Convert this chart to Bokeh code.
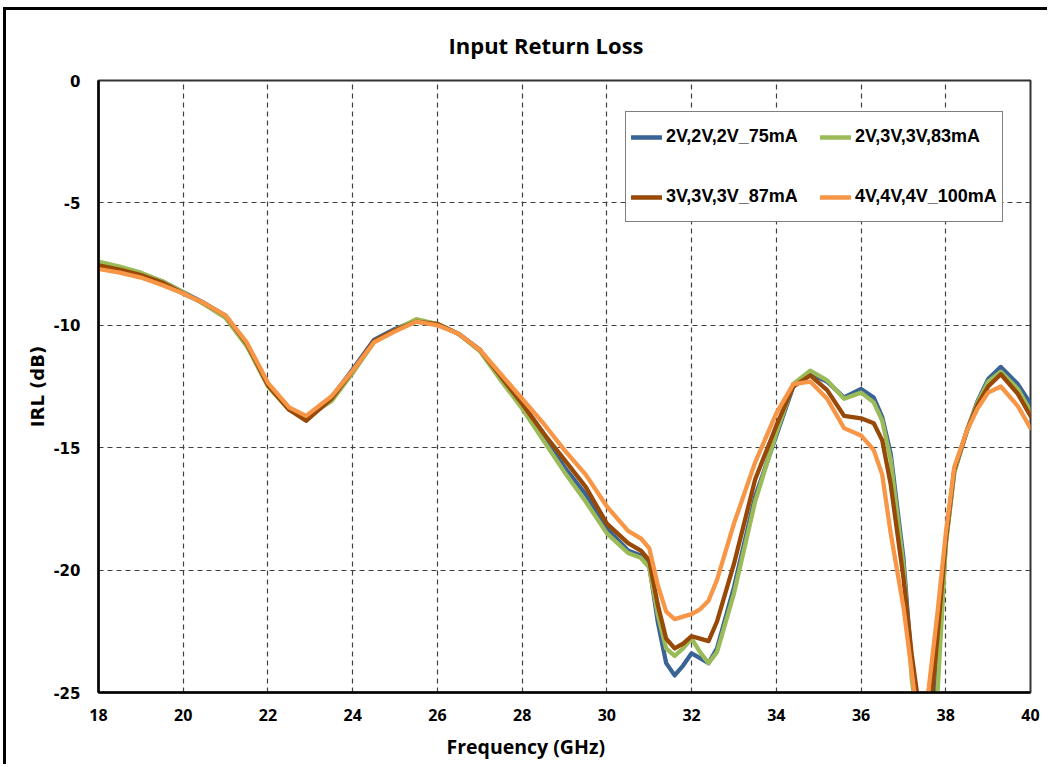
from bokeh.plotting import figure
from bokeh.models import (Legend, LegendItem, Title, Range1d, FixedTicker,
                          PrintfTickFormatter)
from bokeh.embed import file_html
from bokeh.resources import INLINE

# ---- data ----
freq_ghz = [18, 18.5, 19, 19.5, 20, 20.5, 21, 21.5, 22, 22.5, 22.9, 23.5, 24, 24.5,
            25, 25.5, 26, 26.5, 27, 27.5, 28, 28.5, 29, 29.5, 30, 30.5, 30.8, 31,
            31.2, 31.4, 31.6, 31.8, 32, 32.2, 32.4, 32.6, 33, 33.5, 34, 34.4, 34.8,
            35.2, 35.6, 36, 36.3, 36.5, 36.7, 37, 37.2, 37.4, 37.6, 37.8, 38, 38.2,
            38.5, 38.75, 39, 39.3, 39.7, 40]

irl_2v_75ma = [-7.45, -7.65, -7.9, -8.2, -8.65, -9.1, -9.65, -10.8, -12.4, -13.4, -13.8,
               -12.95, -11.8, -10.6, -10.15, -9.8, -9.95, -10.35, -11.0, -12.1, -13.2,
               -14.4, -15.8, -16.9, -18.3, -19.2, -19.4, -19.8, -22.1, -23.8, -24.3,
               -23.9, -23.4, -23.6, -23.8, -23.2, -20.7, -17.0, -14.5, -12.5, -12.0,
               -12.3, -12.95, -12.6, -12.95, -13.75, -15.25, -19.5, -24.0, -26.5, -27.0,
               -24.5, -18.9, -16.0, -14.3, -13.1, -12.2, -11.7, -12.4, -13.2]

irl_2v3v_83ma = [-7.4, -7.6, -7.85, -8.2, -8.65, -9.15, -9.7, -10.85, -12.5, -13.45, -13.75,
                 -13.1, -11.95, -10.7, -10.2, -9.75, -9.95, -10.35, -11.05, -12.25, -13.4,
                 -14.7, -16.0, -17.2, -18.5, -19.3, -19.5, -19.9, -21.8, -23.2, -23.5,
                 -23.2, -22.8, -23.35, -23.8, -23.35, -20.96, -17.2, -14.4, -12.4, -11.85,
                 -12.25, -13.0, -12.75, -13.15, -13.9, -15.5, -19.8, -24.5, -27.0, -27.5,
                 -25.2, -19.0, -16.0, -14.3, -13.15, -12.3, -11.9, -12.6, -13.5]

irl_3v_87ma = [-7.55, -7.72, -7.95, -8.25, -8.7, -9.1, -9.6, -10.75, -12.45, -13.45, -13.9,
               -13.0, -11.85, -10.65, -10.2, -9.85, -9.95, -10.35, -11.0, -12.1, -13.2,
               -14.4, -15.5, -16.6, -18.1, -18.9, -19.2, -19.6, -21.4, -22.8, -23.2,
               -23.0, -22.7, -22.8, -22.9, -22.1, -19.75, -16.3, -14.1, -12.5, -12.05,
               -12.65, -13.7, -13.8, -14.0, -14.7, -16.5, -20.3, -23.5, -26.0, -26.5,
               -22.8, -18.8, -15.9, -14.3, -13.25, -12.5, -12.0, -12.8, -13.7]

irl_4v_100ma = [-7.7, -7.85, -8.05, -8.35, -8.7, -9.1, -9.6, -10.7, -12.35, -13.35, -13.7,
                -12.9, -11.85, -10.7, -10.25, -9.85, -10.0, -10.35, -11.0, -12.0, -13.0,
                -14.0, -15.1, -16.1, -17.4, -18.4, -18.7, -19.1, -20.6, -21.7, -22.0,
                -21.9, -21.8, -21.6, -21.25, -20.4, -18.1, -15.6, -13.6, -12.4, -12.3,
                -13.0, -14.2, -14.5, -15.1, -16.1, -18.5, -21.5, -24.2, -27.0, -24.8,
                -21.8, -18.5, -15.8, -14.3, -13.4, -12.75, -12.5, -13.3, -14.2]

series_labels = ["2V,2V,2V_75mA", "2V,3V,3V,83mA", "3V,3V,3V_87mA", "4V,4V,4V_100mA"]
series_colors = ["#3B6496", "#9BBB59", "#984807", "#F79646"]

x_ticks = [18, 20, 22, 24, 26, 28, 30, 32, 34, 36, 38, 40]
y_ticks = [0, -5, -10, -15, -20, -25]

# ---- figure ----
p = figure(width=1044, height=757, output_backend="svg", toolbar_location=None,
           x_range=Range1d(18, 40), y_range=Range1d(-25, 0),
           min_border_left=92, min_border_right=20, min_border_top=70,
           min_border_bottom=75)
p.styles = {"border-left": "3px solid #000", "border-top": "3px solid #000",
            "margin-left": "3px", "margin-top": "7px"}
p.background_fill_color = "white"
p.border_fill_color = "white"
p.outline_line_color = "#333333"
p.outline_line_width = 2

renderers = []
for ys, c in zip([irl_2v_75ma, irl_2v3v_83ma, irl_3v_87ma, irl_4v_100ma], series_colors):
    r = p.line(freq_ghz, ys, line_color=c, line_width=4.3, line_join="round",
               line_cap="round")
    renderers.append(r)

# axes
p.xaxis.ticker = FixedTicker(ticks=x_ticks)
p.yaxis.ticker = FixedTicker(ticks=y_ticks)
for ax in (p.xaxis, p.yaxis):
    ax.formatter = PrintfTickFormatter(format="%d")
    ax.axis_line_color = "black"
    ax.axis_line_width = 2.5
    ax.major_tick_in = 0
    ax.major_tick_out = 0
    ax.minor_tick_in = 0
    ax.minor_tick_out = 0
    ax.major_label_text_color = "black"
    ax.major_label_text_font_style = "bold"

p.xaxis.major_label_text_font = "Open Sans"
p.xaxis.major_label_text_font_size = "16px"
p.xaxis.major_label_standoff = 16

p.yaxis.major_label_text_font = "DejaVu Sans"
p.yaxis.major_label_text_font_size = "15px"
p.yaxis.major_label_standoff = 18
p.yaxis.axis_label = "IRL (dB)"
p.yaxis.axis_label_text_font = "DejaVu Sans"
p.yaxis.axis_label_text_font_size = "18px"
p.yaxis.axis_label_text_font_style = "bold"
p.yaxis.axis_label_text_color = "black"
p.yaxis.axis_label_standoff = 2

# grid
for g in (p.xgrid, p.ygrid):
    g.grid_line_color = "#404040"
    g.grid_line_width = 1.2
    g.grid_line_dash = "5 4"
p.xgrid.ticker = FixedTicker(ticks=x_ticks)
p.ygrid.ticker = FixedTicker(ticks=y_ticks)

# chart title and x-axis title
title = Title(text="Input Return Loss", align="left", offset=350,
              vertical_align="top",
              text_font="Open Sans", text_font_size="22px", text_font_style="bold",
              text_color="black", standoff=37)
p.add_layout(title, "above")

xlabel = Title(text="Frequency (GHz)", align="left", offset=348,
               text_font="Open Sans", text_font_size="19.5px", text_font_style="bold",
               text_color="black", standoff=14)
p.add_layout(xlabel, "below")

# legend
items = [LegendItem(label=lab, renderers=[r]) for lab, r in zip(series_labels, renderers)]
legend = Legend(items=items, ncols=2, orientation="horizontal", location=(527, 470),
                label_text_font="Liberation Sans", label_text_font_size="18px",
                label_text_font_style="bold", label_text_color="black",
                label_width=133, label_height=39, label_standoff=4,
                glyph_width=31, glyph_height=20, spacing=21, padding=5, margin=0,
                border_line_color="black", border_line_width=1.5,
                background_fill_color="white", background_fill_alpha=1.0)
p.add_layout(legend)

open("out.html", "w").write(file_html(p, INLINE))
